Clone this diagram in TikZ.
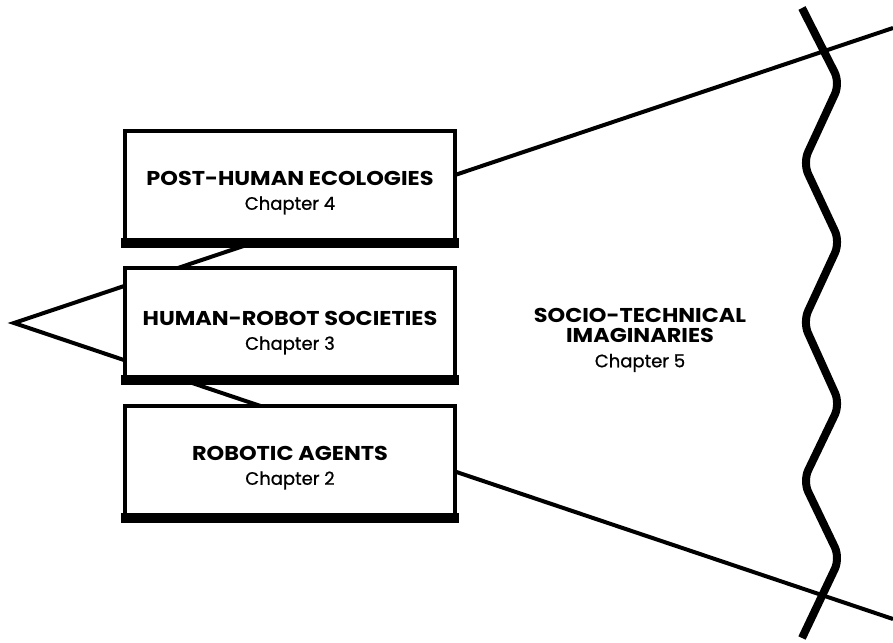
\documentclass[tikz,border=0pt]{standalone}
\usepackage{fontspec}
\setmainfont{Poppins}
\newfontfamily\headfont{Poppins}[FakeStretch=1.12]
\newfontfamily\chapfont{Poppins}[FakeBold=0.8]
\usetikzlibrary{calc}
\newcommand{\boxhead}[1]{{\headfont\fontsize{20}{24}\selectfont\bfseries #1}}
\newcommand{\boxchap}[1]{{\chapfont\fontsize{18}{24}\selectfont #1}}

\begin{document}
\begin{tikzpicture}[x=1pt, y=-1pt,
    chapbox/.style={shape=rectangle, draw=black, fill=white, line width=4pt,
        minimum width=330pt, minimum height=113pt, inner sep=0pt},
    cone/.style={line width=4pt},
    label/.style={align=center, inner sep=0pt, font=\fontsize{18}{24}\selectfont},
]
    \useasboundingbox (0,0) rectangle (893,642);

    \coordinate (apex) at (14,323);
    \coordinate (top) at (893,28);
    \coordinate (bot) at (893,619);

    \draw[cone] (top) -- (apex) -- (bot);

    \node[chapbox] (4) at (290,187) {};
    \node[chapbox] (3) at (290,324.5) {};
    \node[chapbox] (2) at (290,462) {};

    % thick bottom edges
    \foreach \n in {4,3,2}
        \fill ($(\n.south west)+(-2,-8)$) rectangle ($(\n.south east)+(2,2)$);

    \node[label] (t4) at (290,193) {\boxhead{POST-HUMAN ECOLOGIES}\\\boxchap{Chapter 4}};
    \node[label] (t3) at (290,333) {\boxhead{HUMAN-ROBOT SOCIETIES}\\\boxchap{Chapter 3}};
    \node[label] (t2) at (290,468) {\boxhead{ROBOTIC AGENTS}\\\boxchap{Chapter 2}};

    \node[label] (5) at (640,340) {\boxhead{SOCIO-TECHNICAL}\\[-4pt]\boxhead{IMAGINARIES}\\[1pt]\boxchap{Chapter 5}};

    % the cut
    \draw[line width=8pt, rounded corners=12pt]
        (802,8) -- (840,83) -- (803,163) -- (840,242) -- (803,322)
        -- (840,404) -- (803,481) -- (840,558) -- (802,638);
\end{tikzpicture}
\end{document}
